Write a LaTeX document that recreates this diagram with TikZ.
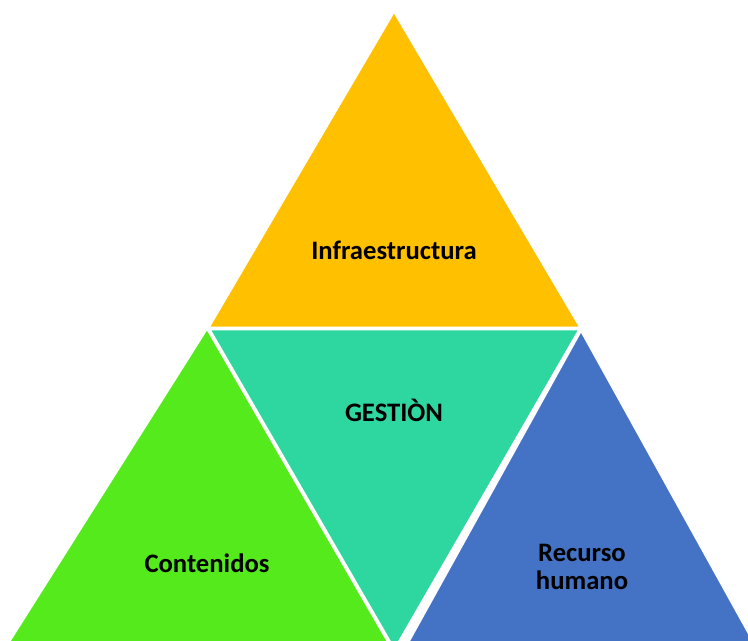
\documentclass[tikz,border=0pt]{standalone}
\usepackage{fontspec}
\setmainfont{Carlito}
\definecolor{naranja}{HTML}{FFC000}
\definecolor{turquesa}{HTML}{2ED6A0}
\definecolor{verde}{HTML}{55EA1C}
\definecolor{azul}{HTML}{4472C4}
\newcommand{\etiqueta}{\node[font=\fontsize{20}{21.5}\selectfont\bfseries, align=center, text=black]}
\tikzset{pieza/.style={draw=white, line width=2pt, line join=miter}}
\begin{document}
\begin{tikzpicture}[x=0.75pt,y=-0.75pt]
	\useasboundingbox (0,0) rectangle (748,641);
	\fill[white] (0,0) rectangle (748,641);
	\clip (0,0) rectangle (748,641);
	% triangulos
	\filldraw[pieza, fill=verde] (207,328) -- (-4,662) -- (400,662) -- cycle;
	\filldraw[pieza, fill=azul] (581,330) -- (397,662) -- (765,662) -- cycle;
	\filldraw[pieza, fill=turquesa] (209,329) -- (580,329) -- (394.5,650) -- cycle;
	\filldraw[pieza, fill=naranja] (394,11) -- (208,328) -- (581,328) -- cycle;
	% textos
	\etiqueta (infra) at (394,250) {Infraestructura};
	\etiqueta (gestion) at (394,410) {GESTIÒN};
	\etiqueta (conten) at (207,563) {Contenidos};
	\etiqueta (recurso) at (582,567) {Recurso\\humano};
\end{tikzpicture}
\end{document}
